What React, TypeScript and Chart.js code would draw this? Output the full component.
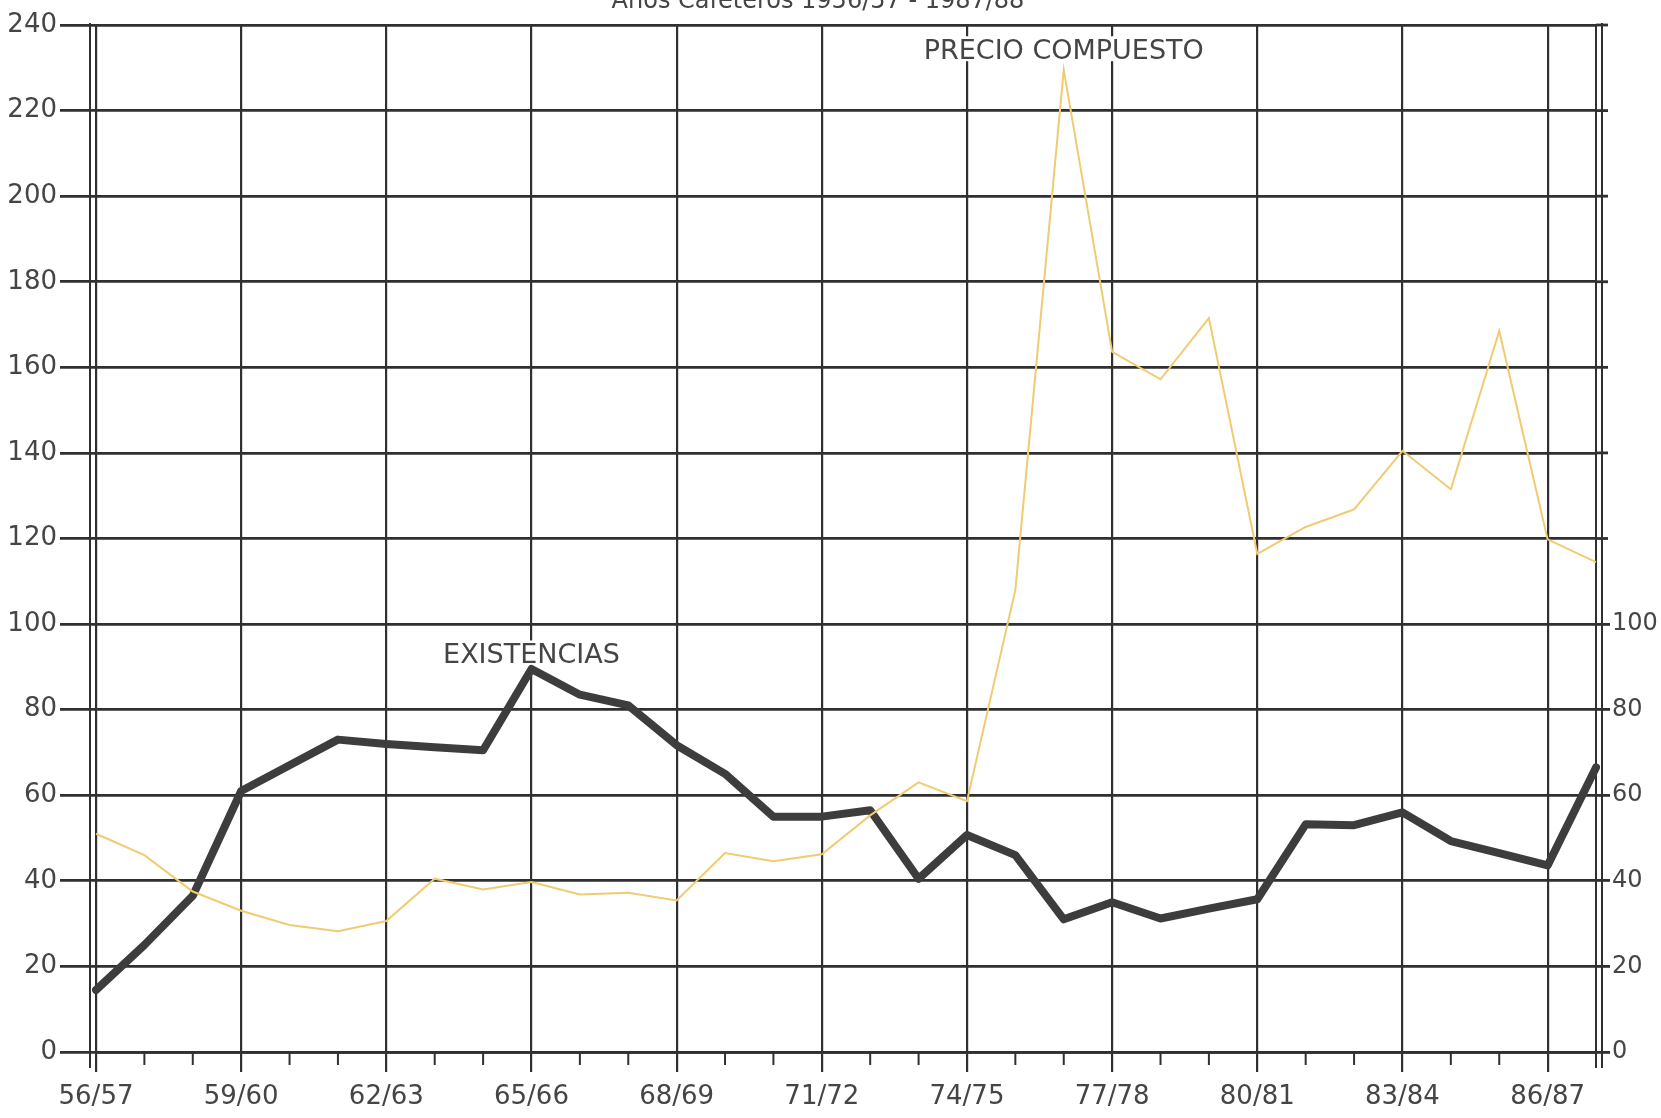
import { useEffect, useRef } from 'react';
import { Chart, registerables } from 'chart.js';

Chart.register(...registerables);

const title = 'Años Cafeteros 1956/57 - 1987/88';

const categories = [
  '56/57', '57/58', '58/59', '59/60', '60/61', '61/62', '62/63', '63/64',
  '64/65', '65/66', '66/67', '67/68', '68/69', '69/70', '70/71', '71/72',
  '72/73', '73/74', '74/75', '75/76', '76/77', '77/78', '78/79', '79/80',
  '80/81', '81/82', '82/83', '83/84', '84/85', '85/86', '86/87', '87/88',
];

const existencias = [
  14.5, 25, 36.5, 61, 67, 73, 72, 71.2,
  70.5, 89.5, 83.5, 81, 71.7, 65, 55, 55,
  56.5, 40.5, 50.7, 46, 31, 35, 31.2, 33.5,
  35.7, 53.2, 53, 56, 49.3, 46.5, 43.6, 66.5,
];

const precioCompuesto = [
  51, 46, 37.5, 33, 29.7, 28.2, 30.6, 40.5,
  38, 39.7, 36.8, 37.2, 35.4, 46.5, 44.6, 46.2,
  55.3, 63, 58.6, 108, 229.5, 163.6, 157.2, 171.5,
  116.4, 122.7, 126.8, 140.5, 131.5, 168.5, 119.8, 114.5,
];

const leftAxisMin = 0;
const leftAxisMax = 240;
const axisStep = 20;
const rightTickMax = 100;
const labelEvery = 3;

const existenciasLabel = { text: 'EXISTENCIAS', category: '65/66', value: 90.8 };
const precioLabel = { text: 'PRECIO COMPUESTO', category: '76/77', value: 232 };

const INK = '#303030';
const TEXT = '#454545';
const FONT = '"DejaVu Sans", sans-serif';

const decorations = {
  id: 'decorations',
  beforeDatasetsDraw(chart: any) {
    const { ctx, chartArea: a, scales } = chart;
    const x = scales.x;
    const y = scales.y;
    const y1 = scales.y1;
    ctx.save();
    ctx.strokeStyle = INK;
    ctx.lineCap = 'butt';

    // double axis lines
    ctx.lineWidth = 2;
    [a.left - 6, a.right + 6].forEach((px: number) => {
      ctx.beginPath();
      ctx.moveTo(px, a.top - 2);
      ctx.lineTo(px, a.bottom + 16);
      ctx.stroke();
    });
    ctx.beginPath();
    ctx.moveTo(a.right, a.bottom);
    ctx.lineTo(a.right, a.bottom + 16);
    ctx.stroke();

    // minor ticks on the category axis
    categories.forEach((_c, i) => {
      if (i % labelEvery !== 0 && i !== categories.length - 1) {
        const px = x.getPixelForValue(i);
        ctx.beginPath();
        ctx.moveTo(px, a.bottom);
        ctx.lineTo(px, a.bottom + 13);
        ctx.stroke();
      }
    });

    // horizontal lines run slightly past the right frame
    ctx.lineWidth = 2.8;
    y.ticks.forEach((t: any) => {
      if (t.value > rightTickMax) {
        const py = y1.getPixelForValue(t.value);
        ctx.beginPath();
        ctx.moveTo(a.right, py);
        ctx.lineTo(a.right + 12, py);
        ctx.stroke();
      }
    });

    // series labels
    ctx.font = `27px ${FONT}`;
    ctx.textAlign = 'center';
    ctx.textBaseline = 'alphabetic';
    const drawLabel = (lab: any, scale: any) => {
      const px = x.getPixelForValue(categories.indexOf(lab.category));
      const py = scale.getPixelForValue(lab.value);
      const w = ctx.measureText(lab.text).width;
      ctx.fillStyle = '#ffffff';
      ctx.fillRect(px - w / 2 - 3, py - 23, w + 6, 25);
      ctx.fillStyle = TEXT;
      ctx.fillText(lab.text, px, py);
    };
    drawLabel(precioLabel, y);
    drawLabel(existenciasLabel, y1);
    ctx.restore();
  },
  afterDraw(chart: any) {
    const { ctx } = chart;
    ctx.save();
    ctx.font = `24px ${FONT}`;
    ctx.fillStyle = TEXT;
    ctx.textAlign = 'center';
    ctx.textBaseline = 'alphabetic';
    ctx.fillText(title, 818, 8);
    ctx.restore();
  },
};

export default function App() {
  const canvasRef = useRef<HTMLCanvasElement | null>(null);

  useEffect(() => {
    const canvas = canvasRef.current;
    if (!canvas) return;
    const tickFont = { family: FONT, size: 26 };
    const chart = new Chart(canvas, {
      type: 'line',
      data: {
        labels: categories,
        datasets: [
          {
            label: 'PRECIO COMPUESTO',
            data: precioCompuesto,
            yAxisID: 'y',
            borderColor: '#f0cb72',
            borderWidth: 2,
            pointRadius: 0,
            tension: 0,
            fill: false,
          },
          {
            label: 'EXISTENCIAS',
            data: existencias,
            yAxisID: 'y1',
            borderColor: '#3d3d3d',
            borderWidth: 8,
            borderJoinStyle: 'round',
            borderCapStyle: 'round',
            pointRadius: 0,
            tension: 0,
            fill: false,
          },
        ],
      },
      options: {
        responsive: false,
        animation: false,
        devicePixelRatio: 1,
        layout: { padding: { top: 25, left: 0, right: 0, bottom: 0 } },
        plugins: {
          legend: { display: false },
          tooltip: { enabled: false },
          title: { display: false },
        },
        scales: {
          x: {
            type: 'category',
            offset: false,
            afterFit: (s: any) => { s.height = 66; },
            border: { display: true, color: INK, width: 2.8 },
            grid: {
              color: (c: any) => (c.index % labelEvery === 0 ? INK : 'rgba(0,0,0,0)'),
              lineWidth: 2.2,
              tickLength: 20,
            },
            ticks: {
              autoSkip: false,
              maxRotation: 0,
              minRotation: 0,
              padding: 10,
              color: TEXT,
              font: tickFont,
              callback: (_v: any, i: number) => (i % labelEvery === 0 ? categories[i] : ''),
            },
          },
          y: {
            position: 'left',
            min: leftAxisMin,
            max: leftAxisMax,
            afterFit: (s: any) => { s.width = 96; },
            border: { display: true, color: INK, width: 2 },
            grid: { color: INK, lineWidth: 2.8, tickLength: 36 },
            ticks: { stepSize: axisStep, padding: 3, color: TEXT, font: tickFont },
          },
          y1: {
            position: 'right',
            min: leftAxisMin,
            max: leftAxisMax,
            afterFit: (s: any) => { s.width = 65; },
            border: { display: true, color: INK, width: 2 },
            grid: {
              drawOnChartArea: false,
              color: (c: any) => (c.tick && c.tick.value <= rightTickMax ? INK : 'rgba(0,0,0,0)'),
              lineWidth: 2.8,
              tickLength: 14,
            },
            ticks: {
              stepSize: axisStep,
              padding: 2,
              color: TEXT,
              font: { family: FONT, size: 24 },
              callback: (v: any) => (Number(v) <= rightTickMax ? String(v) : ''),
            },
          },
        },
      },
      plugins: [decorations],
    } as any);
    return () => chart.destroy();
  }, []);

  return (
    <div style={{ position: 'fixed', left: 0, top: 0, width: 1661, height: 1118, background: '#ffffff' }}>
      <canvas ref={canvasRef} width={1661} height={1118} style={{ width: 1661, height: 1118, display: 'block' }} />
    </div>
  );
}
